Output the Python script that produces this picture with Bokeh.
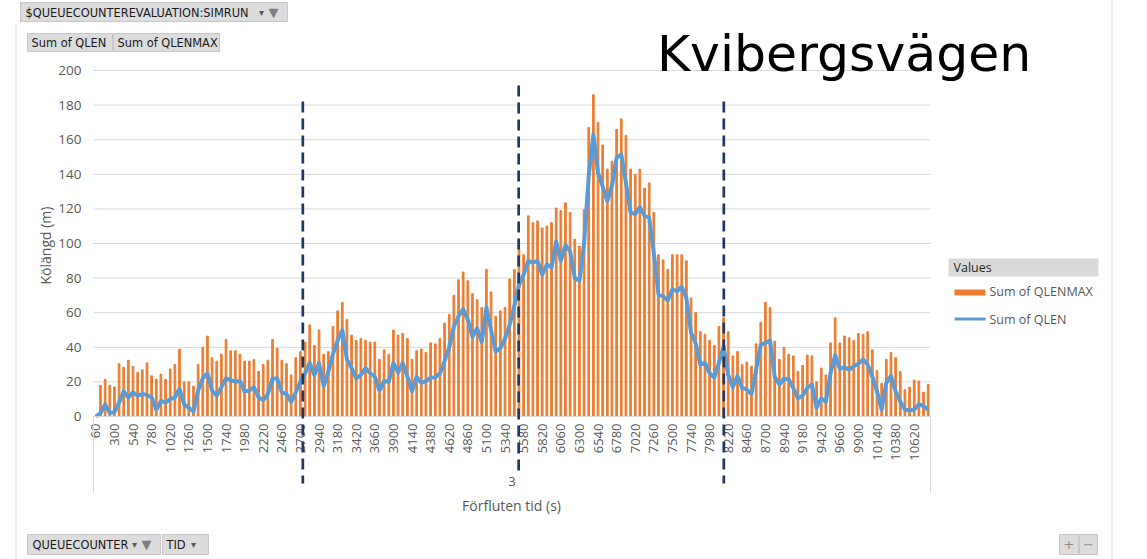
import numpy as np
from bokeh.plotting import figure
from bokeh.models import Range1d, FixedTicker, Label, Arrow, BoxAnnotation
from bokeh.embed import file_html
from bokeh.resources import INLINE

# ---------------- data ----------------
TID = list(range(60, 10801, 60))          # elapsed time categories (s)

QLENMAX = [
    0, 18, 21.5, 18, 17, 30.5, 28.5, 32.5, 29, 25.5,
    27, 31, 23.5, 21.5, 24.5, 21.5, 27.5, 30, 39, 20,
    20, 17.5, 30, 40, 46.5, 34, 32, 36, 44.5, 38,
    38, 36, 32, 32, 33, 26, 30, 32.5, 44.5, 39.5,
    32.5, 30.5, 24, 34, 37.5, 43, 53, 41, 50, 36,
    37.5, 52, 61, 66, 56, 47, 44, 45, 44, 43,
    43, 33, 38.5, 36, 50, 47, 48, 45, 33, 38,
    39, 37, 42.5, 42, 45, 54, 59, 70, 79, 83.5,
    78.5, 71, 67.5, 63, 85, 72, 58, 61, 63, 79.5,
    85, 96.5, 93.5, 116, 112, 113, 109, 110, 112, 120.5,
    119, 123.5, 118, 102.5, 98.5, 119.5, 167, 186, 170, 157,
    143, 147.5, 166, 172, 162.5, 143, 140, 143, 132, 135,
    118, 93.5, 90.5, 85, 93.5, 93.5, 93.5, 90, 68.5, 60,
    49, 47.5, 44, 41, 52, 57, 49, 35, 37.5, 30,
    31.5, 29, 42, 54.5, 66, 63, 43.5, 33, 40, 36,
    35, 26, 29.5, 35.5, 35, 20, 28, 24, 42.5, 57,
    42.5, 46.5, 45.5, 44, 48, 47.5, 49, 38.5, 26.5, 19,
    33, 37, 34, 26, 15.5, 17, 21, 20.5, 14, 18.5,
]

QLEN = [
    0, 2, 7, 2, 2.5, 8, 14.5, 11, 14, 12,
    13, 12.5, 11, 4, 9, 8, 10, 11, 16, 7,
    5, 3, 15, 22, 25, 15, 12, 17, 22, 21,
    20, 20.5, 14.5, 15, 17, 11, 9.5, 13, 22, 22,
    14, 13, 8.5, 14, 20, 25, 31, 24, 31, 17.5,
    26, 36, 44, 50, 33, 28, 22, 24, 28, 25,
    23, 15, 20.5, 20, 31, 25.5, 31, 23, 14.5, 23,
    19.5, 20.5, 22.5, 22.5, 25, 32, 40, 52, 58, 62,
    56, 46, 51, 43, 63, 50, 37.5, 39.5, 45, 53,
    64, 76, 82, 90, 89, 90, 82, 88, 86, 101,
    90, 99, 95.5, 80, 78.5, 100, 139, 163, 141, 133,
    124.5, 133.5, 149.5, 151.5, 135, 118, 117, 121, 116, 115,
    94.5, 70.5, 69.5, 67, 73.5, 72.5, 75, 68.5, 48.5, 42.5,
    30, 31, 25, 22.5, 31, 40.5, 24, 17, 23.5, 16.5,
    15.5, 13, 27, 41.5, 42.5, 44, 23, 18.5, 22, 21.5,
    16.5, 10.5, 12, 16.5, 18.5, 5, 10.5, 8.5, 25, 35.5,
    27.5, 28.5, 27, 29, 30.5, 33, 30, 23, 14.5, 4,
    19.5, 23.5, 14.5, 8.5, 4, 3.5, 4, 7, 6, 4,
]

X_TICKS = list(range(60, 10801, 240))     # 60, 300, ..., 10620
Y_TICKS = list(range(0, 201, 20))
X_MIN, X_MAX = 30, 10830                  # category axis extent (s)
Y_MIN, Y_MAX = 0, 200
DIVIDERS = [2731, 5516, 8163]             # hand-drawn dashed period markers (s)
GROUP_LABEL = "3"

TITLE = "Kvibergsvägen"
Y_TITLE = "Kölängd (m)"
X_TITLE = "Förfluten tid (s)"
SERIES_BAR = "Sum of QLENMAX"
SERIES_LINE = "Sum of QLEN"

ORANGE = "#ED7D31"
BLUE = "#5B9BD5"
NAVY = "#1F3864"
GRID = "#d9d9d9"
TXT = "#595959"
FONT = "Open Sans"
BTN_FONT = "DejaVu Sans"

# ---------------- layout (pixels of the page) ----------------
W, H = 1147, 559
PX_L, PX_R = 93, 930        # plot area left/right
PX_T, PX_B = 70, 416        # plot area top (y=200) / bottom (y=0)
KX = (X_MAX - X_MIN) / (PX_R - PX_L)
KY = (Y_MAX - Y_MIN) / (PX_B - PX_T)
XR0 = X_MIN - PX_L * KX
XR1 = XR0 + W * KX
YR1 = Y_MAX + PX_T * KY
YR0 = YR1 - H * KY

def dx(xr):
    return XR0 + xr * KX

def dy(yr):
    return YR1 - yr * KY

p = figure(width=W, height=H, x_range=Range1d(XR0, XR1), y_range=Range1d(YR0, YR1),
           output_backend="svg", toolbar_location=None,
           min_border=0, min_border_left=0, min_border_right=0,
           min_border_top=0, min_border_bottom=0)
p.outline_line_color = None
p.background_fill_color = "white"
p.border_fill_color = "white"
p.xgrid.visible = False
p.ygrid.visible = False

# axes (library axes pinned at the plot-area edges)
p.xaxis.fixed_location = Y_MIN
p.yaxis.fixed_location = X_MIN
p.xaxis.bounds = (X_MIN, X_MAX)
p.yaxis.bounds = (Y_MIN, Y_MAX)
p.xaxis.ticker = FixedTicker(ticks=X_TICKS)
p.yaxis.ticker = FixedTicker(ticks=Y_TICKS)
for ax in (p.xaxis, p.yaxis):
    ax.major_tick_line_color = None
    ax.minor_tick_line_color = None
    ax.major_tick_out = 0
    ax.major_tick_in = 0
    ax.major_label_text_color = TXT
    ax.major_label_text_font = FONT
p.yaxis.major_label_text_font_size = "13.5px"
p.xaxis.major_label_text_font_size = "13px"
p.yaxis.axis_line_color = None
p.yaxis.major_label_standoff = 12
p.xaxis.axis_line_color = GRID
p.xaxis.major_label_standoff = 7
p.xaxis.major_label_orientation = np.pi / 2

# horizontal gridlines
p.segment(x0=[X_MIN] * len(Y_TICKS), x1=[X_MAX] * len(Y_TICKS), y0=Y_TICKS, y1=Y_TICKS,
          line_color=GRID, line_width=1)

# data
p.vbar(x=TID, top=QLENMAX, width=22, color=ORANGE)
p.line(TID, QLEN, line_color=BLUE, line_width=4, line_join="round")

# dashed dividers
tops = [101, 85, 101]
bots = [483, 470, 483]
for t, yt, yb in zip(DIVIDERS, tops, bots):
    p.add_layout(Arrow(end=None, x_start=t, y_start=dy(yt), x_end=t, y_end=dy(yb),
                       line_color=NAVY, line_width=2.7, line_dash="11 6"))

# multi-level axis frame lines
for xr in (PX_L, PX_R):
    p.add_layout(Arrow(end=None, x_start=dx(xr), y_start=dy(PX_B), x_end=dx(xr), y_end=dy(492),
                       line_color=GRID, line_width=1))
# chart-area borders
p.add_layout(Arrow(end=None, x_start=dx(15.5), y_start=dy(24), x_end=dx(15.5), y_end=dy(570),
                   line_color=GRID, line_width=1))
p.add_layout(Arrow(end=None, x_start=dx(1111.5), y_start=dy(-5), x_end=dx(1111.5), y_end=dy(570),
                   line_color=GRID, line_width=1))

def label(xr, yr, text, size="12.5px", font=FONT, color=TXT, align="left",
          baseline="middle", angle=0.0):
    p.add_layout(Label(x=dx(xr), y=dy(yr), text=text, text_font=font,
                       text_font_size=size, text_color=color, text_align=align,
                       text_baseline=baseline, angle=angle))

def box(x0, x1, y0, y1, fill="#dcdcdc", line=None):
    p.add_layout(BoxAnnotation(left=dx(x0), right=dx(x1), top=dy(y0), bottom=dy(y1),
                               fill_color=fill, fill_alpha=1.0,
                               line_color=line, line_alpha=1.0 if line else 0.0))

# titles
label(656.5, 52.7, TITLE, size="50.5px", font="DejaVu Sans", color="#000000", baseline="alphabetic")
label(45, 245, Y_TITLE, size="14px", align="center", angle=np.pi / 2)
label(511, 505, X_TITLE, size="14px", align="center")
label(511.5, 481, GROUP_LABEL, size="13px", align="center")

# legend
box(948, 1098, 258, 276, fill="#d9d9d9")
label(953, 267, "Values", size="12.5px", color="#262626")
box(954, 985, 289, 295, fill=ORANGE)
p.add_layout(Arrow(end=None, x_start=dx(954), y_start=dy(318.5), x_end=dx(985), y_end=dy(318.5),
                   line_color=BLUE, line_width=3))
label(989, 291, SERIES_BAR, size="12.5px")
label(989, 319, SERIES_LINE, size="12.5px")

# pivot field buttons
BTN_TXT = "#1a1a1a"
CAPS = "11.4px"
box(20, 287, 2, 21, line="#c8c8c8")
label(25, 12, "$QUEUECOUNTEREVALUATION:SIMRUN", size=CAPS, font=BTN_FONT, color=BTN_TXT)
label(261, 12, "▾", size="10px", font=BTN_FONT, color="#595959", align="center")
label(273, 12, "▼", size="13px", font=BTN_FONT, color="#7f7f7f", align="center")

box(27, 112, 33, 51, line="#c8c8c8")
label(31, 42, "Sum of QLEN", size="11.4px", font=BTN_FONT, color=BTN_TXT)
box(113, 219, 33, 51, line="#c8c8c8")
label(117, 42, "Sum of QLENMAX", size="11.4px", font=BTN_FONT, color=BTN_TXT)

box(27, 160, 534, 554, line="#c8c8c8")
label(32, 544, "QUEUECOUNTER", size=CAPS, font=BTN_FONT, color=BTN_TXT)
label(134, 544, "▾", size="10px", font=BTN_FONT, color="#595959", align="center")
label(146, 544, "▼", size="13px", font=BTN_FONT, color="#7f7f7f", align="center")
box(162, 208, 534, 554, line="#c8c8c8")
label(166, 544, "TID", size=CAPS, font=BTN_FONT, color=BTN_TXT)
label(193, 544, "▾", size="10px", font=BTN_FONT, color="#595959", align="center")

box(1059, 1078, 534, 554, line="#c8c8c8")
label(1068.5, 544, "+", size="13px", font=BTN_FONT, color="#8c8c8c", align="center")
box(1079, 1097, 534, 554, line="#c8c8c8")
label(1088, 544, "−", size="13px", font=BTN_FONT, color="#8c8c8c", align="center")

open("out.html", "w").write(file_html(p, INLINE))
